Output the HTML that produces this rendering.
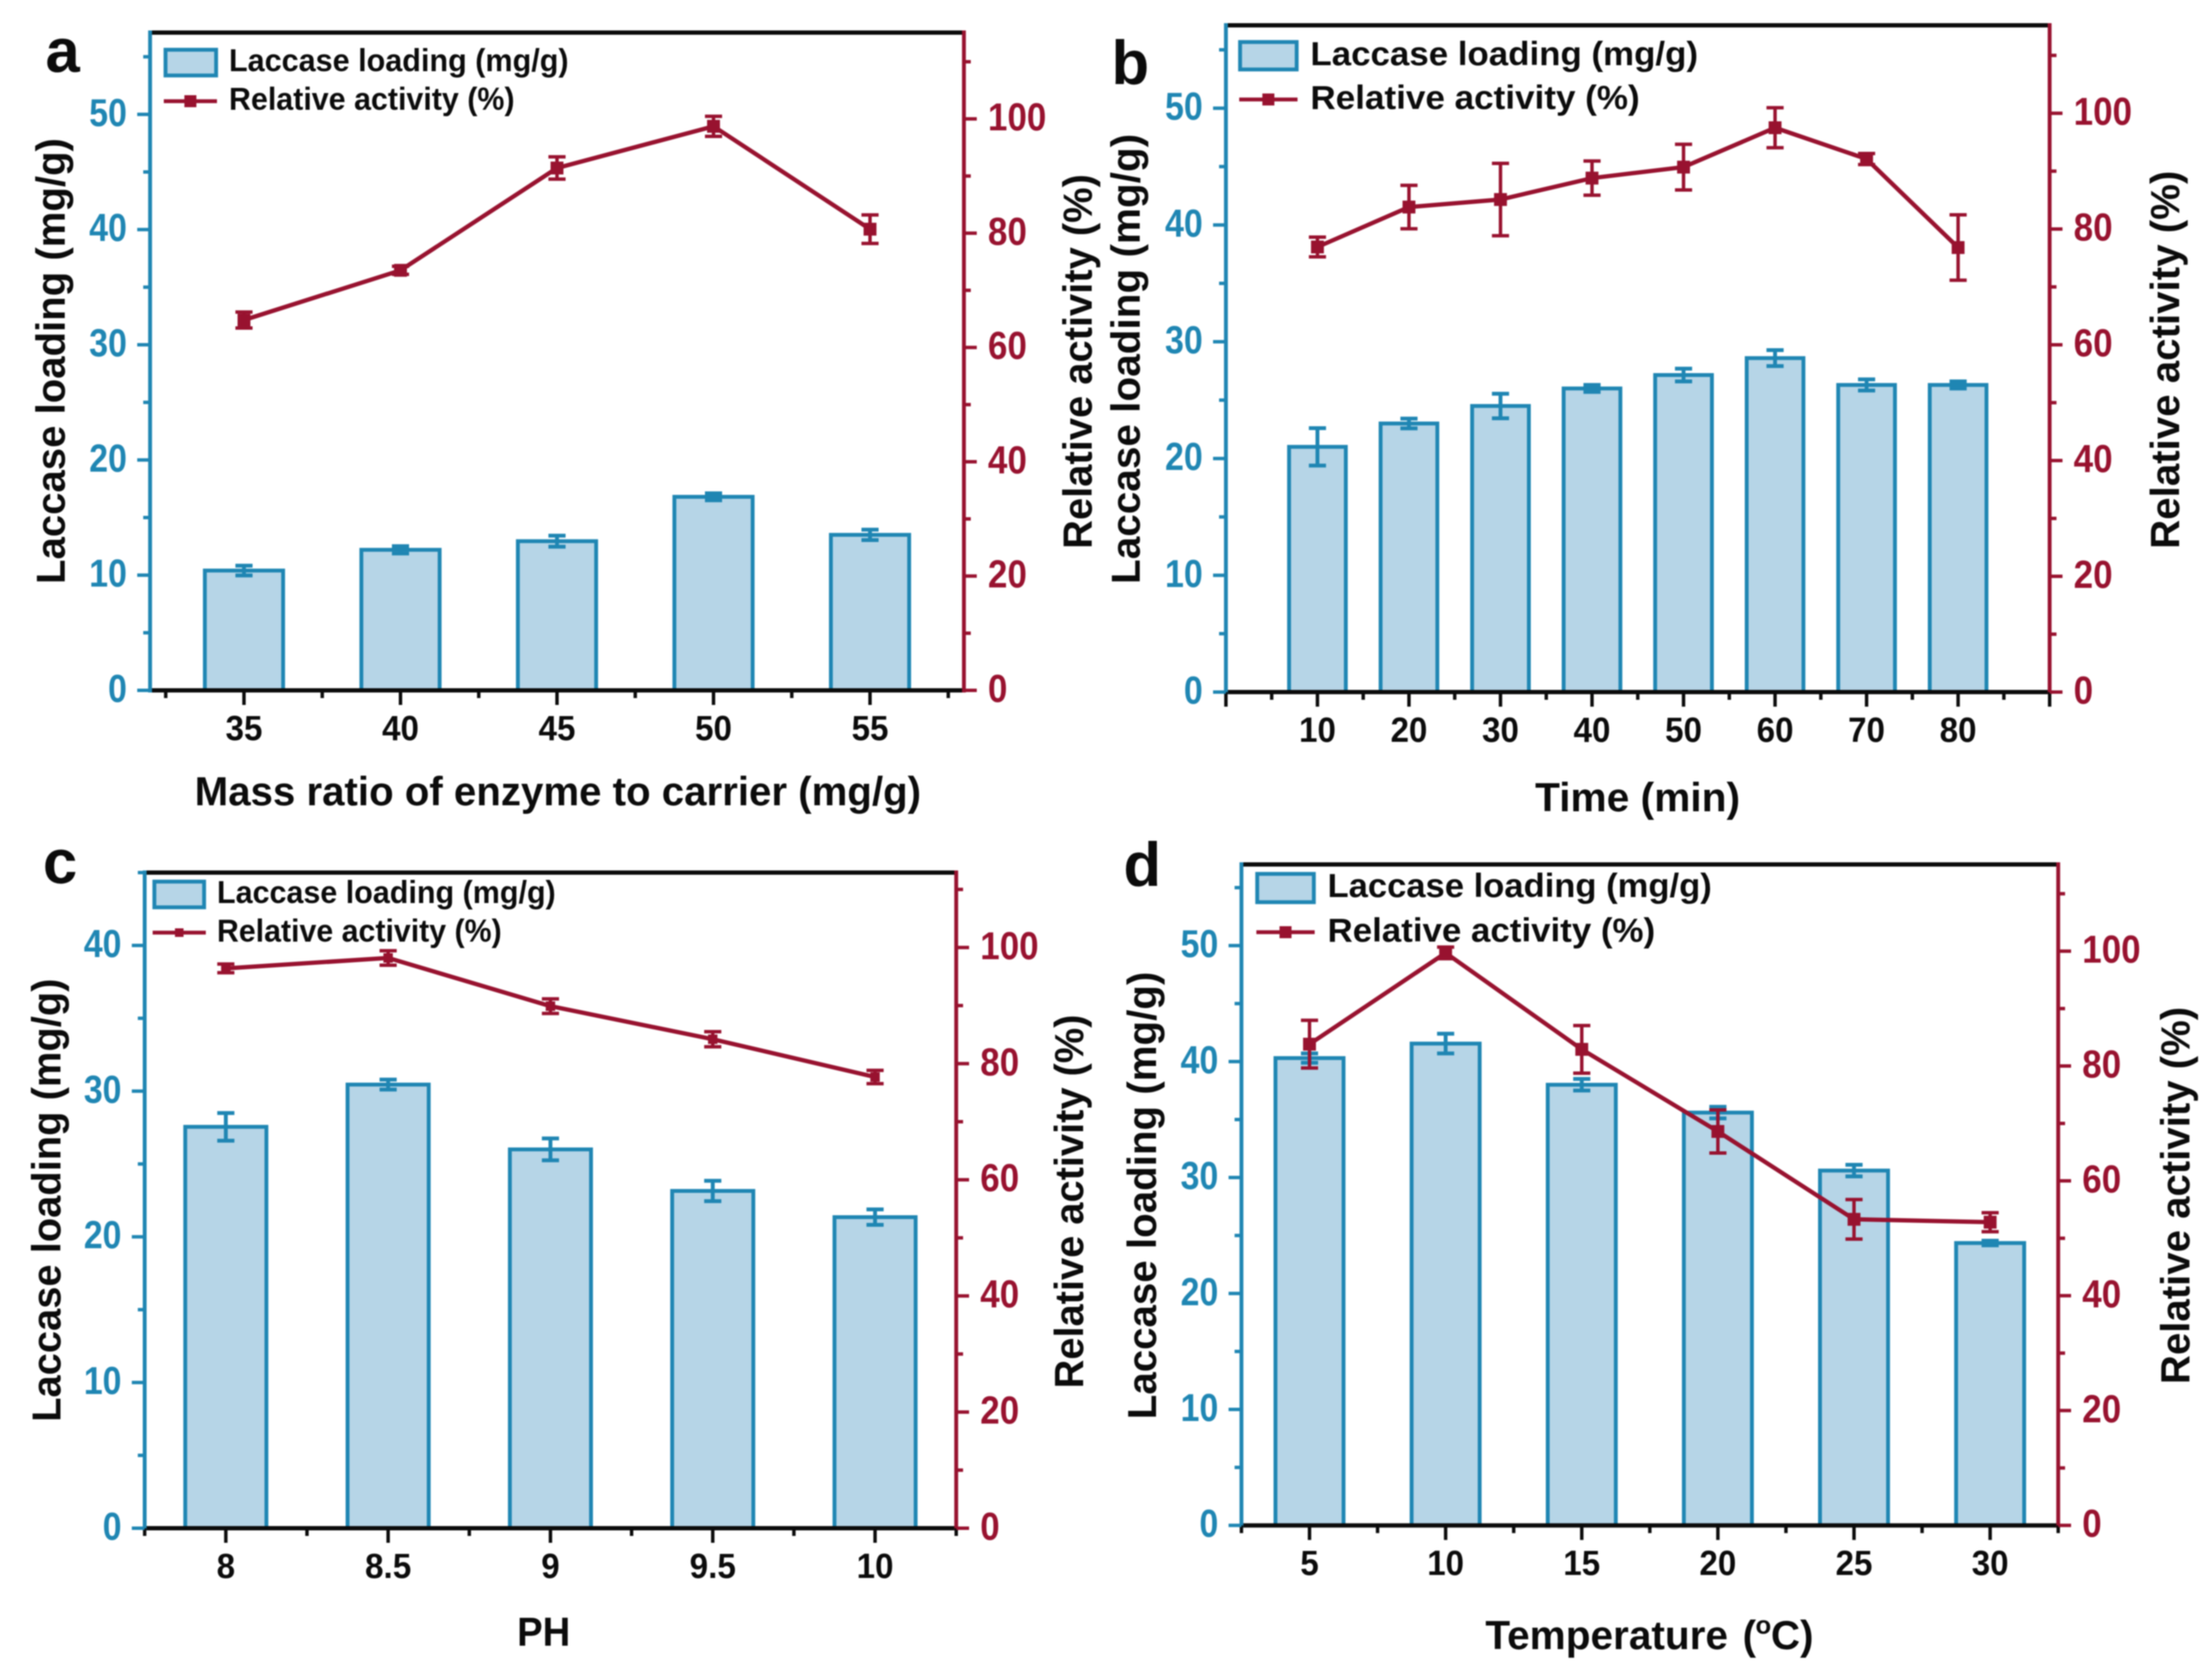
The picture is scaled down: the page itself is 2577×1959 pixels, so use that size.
<!DOCTYPE html>
<html lang="en">
<head>
<meta charset="utf-8">
<title>Laccase loading and relative activity</title>
<style>
html,body{margin:0;padding:0;background:#fff;width:2577px;height:1959px;overflow:hidden}
svg{display:block;filter:blur(0.8px)}
text{font-family:"Liberation Sans",sans-serif;font-weight:700;fill:#0b0b0b}
.leg{font-size:37px}
.yt{font-size:47px}
.xt{font-size:47px}
.let{font-size:72px}
</style>
</head>
<body>
<svg id="figure" xmlns="http://www.w3.org/2000/svg" width="2577" height="1959" viewBox="0 0 2577 1959">
  <rect width="2577" height="1959" fill="#fff"/>
  <g id="plots"></g>

  <text class="let" x="53" y="84">a</text>
  <text class="let" x="1296" y="98">b</text>
  <text class="let" x="50" y="1030">c</text>
  <text class="let" x="1310" y="1033">d</text>

  <text class="yt" transform="translate(75.5,681) rotate(-90)" textLength="520" lengthAdjust="spacingAndGlyphs">Laccase loading (mg/g)</text>
  <text class="yt" transform="translate(1273,640) rotate(-90)" textLength="437" lengthAdjust="spacingAndGlyphs">Relative activity (%)</text>
  <text class="xt" x="227" y="939" textLength="847" lengthAdjust="spacingAndGlyphs">Mass ratio of enzyme to carrier (mg/g)</text>

  <text class="yt" transform="translate(1329,681) rotate(-90)" textLength="525" lengthAdjust="spacingAndGlyphs">Laccase loading (mg/g)</text>
  <text class="yt" transform="translate(2541,640) rotate(-90)" textLength="441" lengthAdjust="spacingAndGlyphs">Relative activity (%)</text>
  <text class="xt" x="1790" y="946" textLength="239" lengthAdjust="spacingAndGlyphs">Time (min)</text>

  <text class="yt" transform="translate(70.5,1658) rotate(-90)" textLength="517" lengthAdjust="spacingAndGlyphs">Laccase loading (mg/g)</text>
  <text class="yt" transform="translate(1263,1619) rotate(-90)" textLength="436" lengthAdjust="spacingAndGlyphs">Relative activity (%)</text>
  <text class="xt" x="603" y="1919" textLength="62" lengthAdjust="spacingAndGlyphs">PH</text>

  <text class="yt" transform="translate(1348,1655) rotate(-90)" textLength="522" lengthAdjust="spacingAndGlyphs">Laccase loading (mg/g)</text>
  <text class="yt" transform="translate(2553,1614) rotate(-90)" textLength="440" lengthAdjust="spacingAndGlyphs">Relative activity (%)</text>
  <text class="xt" y="1923"><tspan x="1732" textLength="283" lengthAdjust="spacingAndGlyphs">Temperature</tspan> <tspan x="2032">(</tspan><tspan x="2047" y="1905" font-size="30">o</tspan><tspan x="2065" y="1923">C)</tspan></text>

  <g>
    <rect x="193" y="58" width="59" height="30" fill="#b6d5e7" stroke="#1f86b3" stroke-width="4.5"/>
    <text class="leg" x="267" y="83" textLength="396" lengthAdjust="spacingAndGlyphs">Laccase loading (mg/g)</text>
    <line x1="191" y1="118" x2="253" y2="118" stroke="#98122f" stroke-width="4.5"/>
    <rect x="215" y="111" width="14" height="14" fill="#98122f"/>
    <text class="leg" x="267" y="128" textLength="333" lengthAdjust="spacingAndGlyphs">Relative activity (%)</text>
  </g>
  <g>
    <rect x="1446" y="49" width="66" height="32" fill="#b6d5e7" stroke="#1f86b3" stroke-width="4.5"/>
    <text class="leg" x="1528" y="76" style="font-size:39px" textLength="452" lengthAdjust="spacingAndGlyphs">Laccase loading (mg/g)</text>
    <line x1="1445" y1="116" x2="1513" y2="116" stroke="#98122f" stroke-width="4.5"/>
    <rect x="1472" y="109" width="14" height="14" fill="#98122f"/>
    <text class="leg" x="1528" y="127" style="font-size:39px" textLength="384" lengthAdjust="spacingAndGlyphs">Relative activity (%)</text>
  </g>
  <g>
    <rect x="180" y="1028" width="58" height="30" fill="#b6d5e7" stroke="#1f86b3" stroke-width="4.5"/>
    <text class="leg" x="253" y="1053" textLength="395" lengthAdjust="spacingAndGlyphs">Laccase loading (mg/g)</text>
    <line x1="178" y1="1087.5" x2="240" y2="1087.5" stroke="#98122f" stroke-width="4.5"/>
    <rect x="204" y="1082.5" width="10" height="10" fill="#98122f"/>
    <text class="leg" x="253" y="1098" textLength="332" lengthAdjust="spacingAndGlyphs">Relative activity (%)</text>
  </g>
  <g>
    <rect x="1466" y="1019" width="66" height="33" fill="#b6d5e7" stroke="#1f86b3" stroke-width="4.5"/>
    <text class="leg" x="1548" y="1046" style="font-size:39px" textLength="448" lengthAdjust="spacingAndGlyphs">Laccase loading (mg/g)</text>
    <line x1="1465" y1="1087" x2="1533" y2="1087" stroke="#98122f" stroke-width="4.5"/>
    <rect x="1492" y="1080" width="14" height="14" fill="#98122f"/>
    <text class="leg" x="1548" y="1098" style="font-size:39px" textLength="382" lengthAdjust="spacingAndGlyphs">Relative activity (%)</text>
  </g>
</svg>

<script>
// Panel a
const aCategories = [35, 40, 45, 50, 55];
const aLoading = [10.4, 12.2, 12.95, 16.8, 13.5];
const aLoadingErr = [0.42, 0.32, 0.48, 0.3, 0.45];
const aActivity = [64.8, 73.5, 91.4, 98.7, 80.7];
const aActivityErr = [1.4, 0.7, 1.95, 1.75, 2.5];
const aXMajor = [35, 40, 45, 50, 55];
const aXLabels = ['35', '40', '45', '50', '55'];
const aLeftTicks = [0, 10, 20, 30, 40, 50];
const aRightTicks = [0, 20, 40, 60, 80, 100];

// Panel b
const bCategories = [10, 20, 30, 40, 50, 60, 70, 80];
const bLoading = [21.0, 23.0, 24.5, 26.0, 27.15, 28.6, 26.3, 26.3];
const bLoadingErr = [1.6, 0.42, 1.05, 0.3, 0.55, 0.68, 0.48, 0.3];
const bActivity = [76.9, 83.8, 85.1, 88.8, 90.7, 97.5, 92.1, 76.8];
const bActivityErr = [1.7, 3.75, 6.25, 2.95, 3.95, 3.45, 0.95, 5.65];
const bXMajor = [0, 10, 20, 30, 40, 50, 60, 70, 80, 90];
const bXLabels = ['', '10', '20', '30', '40', '50', '60', '70', '80', ''];
const bLeftTicks = [0, 10, 20, 30, 40, 50];
const bRightTicks = [0, 20, 40, 60, 80, 100];

// Panel c
const cCategories = [8, 8.5, 9, 9.5, 10];
const cLoading = [27.55, 30.45, 26.0, 23.15, 21.35];
const cLoadingErr = [0.95, 0.34, 0.75, 0.7, 0.53];
const cActivity = [96.4, 98.2, 89.9, 84.2, 77.7];
const cActivityErr = [0.75, 1.25, 1.25, 1.3, 1.15];
const cXMajor = [8, 8.5, 9, 9.5, 10];
const cXLabels = ['8', '8.5', '9', '9.5', '10'];
const cLeftTicks = [0, 10, 20, 30, 40];
const cRightTicks = [0, 20, 40, 60, 80, 100];

// Panel d
const dCategories = [5, 10, 15, 20, 25, 30];
const dLoading = [40.3, 41.55, 38.0, 35.6, 30.6, 24.35];
const dLoadingErr = [0.4, 0.85, 0.5, 0.5, 0.5, 0.2];
const dActivity = [83.8, 99.7, 82.9, 68.6, 53.3, 52.8];
const dActivityErr = [4.15, 1.0, 4.15, 3.75, 3.45, 1.65];
const dXMajor = [5, 10, 15, 20, 25, 30];
const dXLabels = ['5', '10', '15', '20', '25', '30'];
const dLeftTicks = [0, 10, 20, 30, 40, 50];
const dRightTicks = [0, 20, 40, 60, 80, 100];

const BLUE = '#1f86b3';
const FILL = '#b6d5e7';
const RED = '#98122f';
const BLACK = '#0b0b0b';
const NS = 'http://www.w3.org/2000/svg';

function make(parent, tag, props) {
  const node = document.createElementNS(NS, tag);
  for (const k in props) node.setAttribute(k, props[k]);
  parent.appendChild(node);
  return node;
}
function seg(parent, x1, y1, x2, y2, color, width, name) {
  const node = make(parent, 'line', {x1: x1, y1: y1, x2: x2, y2: y2, stroke: color, 'stroke-width': width});
  
  
  return node;
}
function label(parent, x, y, str, color, size, anchor, perDigit, name) {
  const node = make(parent, 'text', {x: x, y: y, fill: color, 'text-anchor': anchor, 'font-size': size});
  node.style.fill = color;
  const dots = (str.match(/\./g) || []).length;
  node.setAttribute('textLength', (str.length - dots) * perDigit + dots * 11);
  node.setAttribute('lengthAdjust', 'spacingAndGlyphs');
  node.textContent = str;
  
  
  return node;
}

function drawPanel(p, d) {
  const root = document.getElementById('plots');
  const g = make(root, 'g', {});
  
  

  const sx = v => p.left + (v - p.xMin) / (p.xMax - p.xMin) * (p.right - p.left);
  const sl = v => p.bottom - v / p.leftMax * (p.bottom - p.top);
  const sr = v => p.bottom - v / p.rightMax * (p.bottom - p.top);

  // bars
  d.categories.forEach((c, i) => {
    const x0 = sx(c - p.barWidth / 2), x1 = sx(c + p.barWidth / 2), y = sl(d.loading[i]);
    const bar = make(g, 'rect', {x: x0, y: y, width: x1 - x0, height: p.bottom - y, fill: FILL, stroke: BLUE, 'stroke-width': 4.5});
    
    
  });
  d.categories.forEach((c, i) => {
    const x = sx(c), hi = sl(d.loading[i] + d.loadingErr[i]), lo = sl(d.loading[i] - d.loadingErr[i]);
    seg(g, x, hi, x, lo, BLUE, 4.5, 'loading-error-bar');
    seg(g, x - 10, hi, x + 10, hi, BLUE, 4.5, 'loading-error-cap');
    seg(g, x - 10, lo, x + 10, lo, BLUE, 4.5, 'loading-error-cap');
  });

  // frame
  seg(g, p.left, p.top, p.right, p.top, BLACK, 5, 'top-axis-line');
  seg(g, p.left, p.bottom, p.right, p.bottom, BLACK, 5, 'x-axis-line');
  seg(g, p.left, p.top - 2.5, p.left, p.bottom + 2.5, BLUE, 4.5, 'left-axis-line');
  seg(g, p.right, p.top - 2.5, p.right, p.bottom + 2.5, RED, 4.5, 'right-axis-line');

  // x ticks
  d.xMajor.forEach((v, i) => {
    seg(g, sx(v), p.bottom, sx(v), p.bottom + 17, BLACK, 4, 'x-major-tick');
    if (d.xLabels[i]) label(g, sx(v), p.bottom + 58, d.xLabels[i], BLACK, 41, 'middle', 21.5, 'x-tick-label');
  });
  for (let v = p.xMinorStart; v <= p.xMax + 1e-9; v += p.xMinorStep) {
    seg(g, sx(v), p.bottom, sx(v), p.bottom + 9, BLACK, 4, 'x-minor-tick');
  }

  // left ticks
  d.leftTicks.forEach(v => {
    seg(g, p.left - 15, sl(v), p.left, sl(v), BLUE, 4, 'left-major-tick');
    label(g, p.left - 27, sl(v) + 13.5, String(v), BLUE, 45, 'end', 22, 'left-tick-label');
  });
  for (let v = 5; v <= p.leftMax; v += 10) {
    seg(g, p.left - 8, sl(v), p.left, sl(v), BLUE, 4, 'left-minor-tick');
  }

  // right ticks
  d.rightTicks.forEach(v => {
    seg(g, p.right, sr(v), p.right + 15, sr(v), RED, 4, 'right-major-tick');
    label(g, p.right + 28, sr(v) + 13.5, String(v), RED, 45, 'start', 22.7, 'right-tick-label');
  });
  for (let v = 10; v <= p.rightMax; v += 20) {
    seg(g, p.right, sr(v), p.right + 8, sr(v), RED, 4, 'right-minor-tick');
  }

  // activity line
  const pts = d.categories.map((c, i) => sx(c) + ',' + sr(d.activity[i])).join(' ');
  const line = make(g, 'polyline', {points: pts, fill: 'none', stroke: RED, 'stroke-width': 5});
  
  
  d.categories.forEach((c, i) => {
    const x = sx(c), y = sr(d.activity[i]);
    const hi = sr(d.activity[i] + d.activityErr[i]), lo = sr(d.activity[i] - d.activityErr[i]);
    seg(g, x, hi, x, lo, RED, 4, 'activity-error-bar');
    seg(g, x - 10, hi, x + 10, hi, RED, 4, 'activity-error-cap');
    seg(g, x - 10, lo, x + 10, lo, RED, 4, 'activity-error-cap');
    const m = make(g, 'rect', {x: x - p.marker / 2, y: y - p.marker / 2, width: p.marker, height: p.marker, fill: RED});
    
    
  });
}

drawPanel(
  {id: 'a', left: 175, right: 1124, top: 38, bottom: 805, xMin: 32, xMax: 58, leftMax: 57.1, rightMax: 115.1, barWidth: 2.5, xMinorStart: 32.5, xMinorStep: 5, marker: 15},
  {categories: aCategories, loading: aLoading, loadingErr: aLoadingErr, activity: aActivity, activityErr: aActivityErr, xMajor: aXMajor, xLabels: aXLabels, leftTicks: aLeftTicks, rightTicks: aRightTicks}
);
drawPanel(
  {id: 'b', left: 1429.5, right: 2390, top: 29.5, bottom: 807, xMin: 0, xMax: 90, leftMax: 57.1, rightMax: 115.2, barWidth: 6.2, xMinorStart: 5, xMinorStep: 10, marker: 15},
  {categories: bCategories, loading: bLoading, loadingErr: bLoadingErr, activity: bActivity, activityErr: bActivityErr, xMajor: bXMajor, xLabels: bXLabels, leftTicks: bLeftTicks, rightTicks: bRightTicks}
);
drawPanel(
  {id: 'c', left: 168.7, right: 1115, top: 1017.5, bottom: 1782, xMin: 7.75, xMax: 10.25, leftMax: 45, rightMax: 112.9, barWidth: 0.25, xMinorStart: 7.75, xMinorStep: 0.5, marker: 11},
  {categories: cCategories, loading: cLoading, loadingErr: cLoadingErr, activity: cActivity, activityErr: cActivityErr, xMajor: cXMajor, xLabels: cXLabels, leftTicks: cLeftTicks, rightTicks: cRightTicks}
);
drawPanel(
  {id: 'd', left: 1447.6, right: 2400, top: 1008, bottom: 1778.7, xMin: 2.5, xMax: 32.5, leftMax: 57, rightMax: 115.1, barWidth: 2.5, xMinorStart: 2.5, xMinorStep: 5, marker: 15},
  {categories: dCategories, loading: dLoading, loadingErr: dLoadingErr, activity: dActivity, activityErr: dActivityErr, xMajor: dXMajor, xLabels: dXLabels, leftTicks: dLeftTicks, rightTicks: dRightTicks}
);
</script>
</body>
</html>
